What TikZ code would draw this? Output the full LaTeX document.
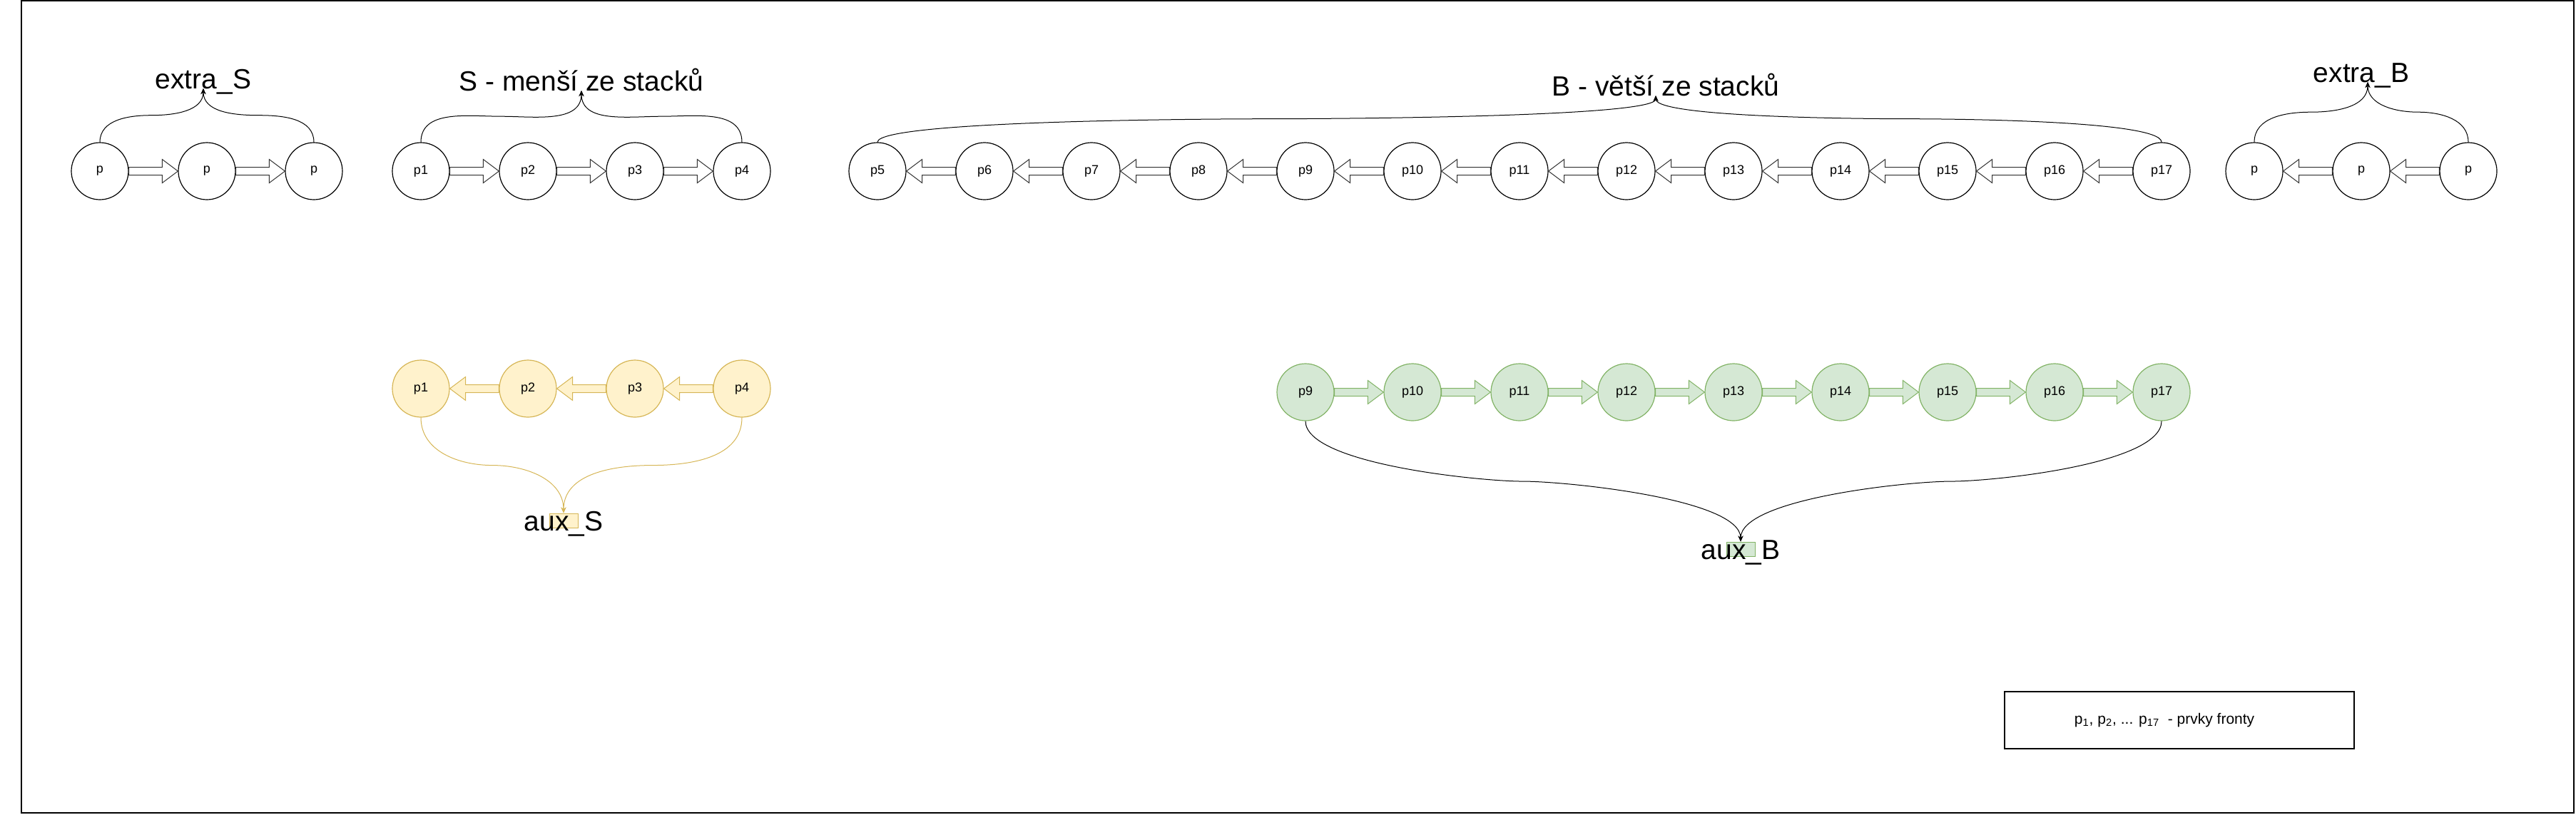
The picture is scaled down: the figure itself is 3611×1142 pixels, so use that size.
\documentclass[tikz,border=0pt]{standalone}
\usepackage{fontspec}
\setmainfont{Liberation Sans}
\usepackage{xcolor}
\usepackage{tikz}
\usetikzlibrary{arrows.meta,positioning,calc}

\definecolor{ylwfill}{HTML}{FFF2CC}
\definecolor{ylwline}{HTML}{D6B656}
\definecolor{grnfill}{HTML}{D5E8D4}
\definecolor{grnline}{HTML}{82B366}

% hollow block arrow between two node anchors (tail, head)
\newcommand{\flexarrow}[3][]{%
  \path (#2) coordinate (fa-s) (#3) coordinate (fa-h);
  \path ($(fa-h)!11pt!(fa-s)$) coordinate (fa-b);
  \draw[flex,#1] ($(fa-s)+(0,5.5)$) -- ($(fa-b)+(0,5.5)$) -- ($(fa-b)+(0,16.5)$)
    -- (fa-h) -- ($(fa-b)+(0,-16.5)$) -- ($(fa-b)+(0,-5.5)$) -- ($(fa-s)+(0,-5.5)$) -- cycle;
}

\begin{document}
\begin{tikzpicture}[
  x=0.5pt, y=-0.5pt,
  node distance=34.4pt,
  elem/.style={circle, draw=black, line width=0.6pt, fill=white, minimum size=40pt,
               inner sep=0pt, font=\fontsize{9}{10}\selectfont},
  yelem/.style={elem, draw=ylwline, fill=ylwfill},
  gelem/.style={elem, draw=grnline, fill=grnfill},
  flex/.style={draw=black!80, fill=white, line width=0.5pt},
  yflex/.style={draw=ylwline, fill=ylwfill},
  gflex/.style={draw=grnline, fill=grnfill},
  title/.style={font=\fontsize{19.5}{23}\selectfont, inner sep=0pt},
  link/.style={-{Stealth[length=4pt,width=3.5pt]}, line width=0.5pt},
  auxbox/.style={rectangle, minimum width=20pt, minimum height=10pt, inner sep=0pt,
                 line width=0.5pt}
]
\useasboundingbox (0,0) rectangle (3611,1142);
\draw[line width=1pt] (30,1) rectangle (3608,1140);

%% extra_S row
\node[elem] (xs1) at (140,240) {p};
\node[elem, right=of xs1] (xs2) {p};
\node[elem, right=of xs2] (xs3) {p};

%% S row
\node[elem] (s1) at (590,240) {p1};
\node[elem, right=of s1] (s2) {p2};
\node[elem, right=of s2] (s3) {p3};
\node[elem, right=of s3] (s4) {p4};

%% B row
\node[elem] (b5) at (1230,240) {p5};
\node[elem, right=of b5]  (b6)  {p6};
\node[elem, right=of b6]  (b7)  {p7};
\node[elem, right=of b7]  (b8)  {p8};
\node[elem, right=of b8]  (b9)  {p9};
\node[elem, right=of b9]  (b10) {p10};
\node[elem, right=of b10] (b11) {p11};
\node[elem, right=of b11] (b12) {p12};
\node[elem, right=of b12] (b13) {p13};
\node[elem, right=of b13] (b14) {p14};
\node[elem, right=of b14] (b15) {p15};
\node[elem, right=of b15] (b16) {p16};
\node[elem, right=of b16] (b17) {p17};

%% extra_B row
\node[elem] (xb1) at (3160,240) {p};
\node[elem, right=of xb1] (xb2) {p};
\node[elem, right=of xb2] (xb3) {p};

%% titles
\node[title, anchor=base] (extraS) at (285,124)  {extra\_S};
\node[title, anchor=base] (stitle) at (815,127)  {S - menší ze stacků};
\node[title, anchor=base] (btitle) at (2335,134) {B - větší ze stacků};
\node[title, anchor=base] (extraB) at (3310,115) {extra\_B};

%% top block arrows
\flexarrow{xs1.east}{xs2.west}
\flexarrow{xs2.east}{xs3.west}
\flexarrow{s1.east}{s2.west}
\flexarrow{s2.east}{s3.west}
\flexarrow{s3.east}{s4.west}
\flexarrow{b6.west}{b5.east}
\flexarrow{b7.west}{b6.east}
\flexarrow{b8.west}{b7.east}
\flexarrow{b9.west}{b8.east}
\flexarrow{b10.west}{b9.east}
\flexarrow{b11.west}{b10.east}
\flexarrow{b12.west}{b11.east}
\flexarrow{b13.west}{b12.east}
\flexarrow{b14.west}{b13.east}
\flexarrow{b15.west}{b14.east}
\flexarrow{b16.west}{b15.east}
\flexarrow{b17.west}{b16.east}
\flexarrow{xb2.west}{xb1.east}
\flexarrow{xb3.west}{xb2.east}

%% top curved links
\draw[link] (xs1.north) to[out=90,in=180] ($(xs1.north)!.5!(extraS.base)$) to[out=0,in=-90] (extraS.base);
\draw[link] (xs3.north) to[out=90,in=0] ($(xs3.north)!.5!(extraS.base)$) to[out=180,in=-90] (extraS.base);
\draw[link] (s1.north) to[out=90,in=180] ($(s1.north)!.5!(stitle.base)$) to[out=0,in=-90] (stitle.base);
\draw[link] (s4.north) to[out=90,in=0] ($(s4.north)!.5!(stitle.base)$) to[out=180,in=-90] (stitle.base);
\draw[link, distance=16pt] (b5.north) to[out=90,in=180] ($(b5.north)!.5!([xshift=-7pt]btitle.base)$)
  to[out=0,in=-90] ([xshift=-7pt]btitle.base);
\draw[link, distance=16pt] (b17.north) to[out=90,in=0] ($(b17.north)!.5!([xshift=-7pt]btitle.base)$)
  to[out=180,in=-90] ([xshift=-7pt]btitle.base);
\draw[link] (xb1.north) to[out=90,in=180] ($(xb1.north)!.5!([xshift=4.5pt]extraB.base)$)
  to[out=0,in=-90] ([xshift=4.5pt]extraB.base);
\draw[link] (xb3.north) to[out=90,in=0] ($(xb3.north)!.5!([xshift=4.5pt]extraB.base)$)
  to[out=180,in=-90] ([xshift=4.5pt]extraB.base);

%% aux_S (yellow)
\node[yelem] (ys1) at (590,545) {p1};
\node[yelem, right=of ys1] (ys2) {p2};
\node[yelem, right=of ys2] (ys3) {p3};
\node[yelem, right=of ys3] (ys4) {p4};
\flexarrow[yflex]{ys2.west}{ys1.east}
\flexarrow[yflex]{ys3.west}{ys2.east}
\flexarrow[yflex]{ys4.west}{ys3.east}

\node[auxbox, draw=ylwline, fill=ylwfill] (auxS) at (790,730) {};
\node[title, anchor=base] (auxStxt) at ([yshift=-7pt]auxS.center) {aux\_S};
\draw[link, ylwline] (ys1.south) to[out=-90,in=180] ($(ys1.south)!.5!(auxS.north)$) to[out=0,in=90] (auxS.north);
\draw[link, ylwline] (ys4.south) to[out=-90,in=0] ($(ys4.south)!.5!(auxS.north)$) to[out=180,in=90] (auxS.north);

%% aux_B (green)
\node[gelem] (g9) at (1830,550) {p9};
\node[gelem, right=of g9]  (g10) {p10};
\node[gelem, right=of g10] (g11) {p11};
\node[gelem, right=of g11] (g12) {p12};
\node[gelem, right=of g12] (g13) {p13};
\node[gelem, right=of g13] (g14) {p14};
\node[gelem, right=of g14] (g15) {p15};
\node[gelem, right=of g15] (g16) {p16};
\node[gelem, right=of g16] (g17) {p17};
\flexarrow[gflex]{g9.east}{g10.west}
\flexarrow[gflex]{g10.east}{g11.west}
\flexarrow[gflex]{g11.east}{g12.west}
\flexarrow[gflex]{g12.east}{g13.west}
\flexarrow[gflex]{g13.east}{g14.west}
\flexarrow[gflex]{g14.east}{g15.west}
\flexarrow[gflex]{g15.east}{g16.west}
\flexarrow[gflex]{g16.east}{g17.west}

\node[auxbox, draw=grnline, fill=grnfill] (auxB) at (2440,770) {};
\node[title, anchor=base] (auxBtxt) at ([yshift=-7pt]auxB.center) {aux\_B};
\draw[link, distance=30pt] (g9.south) to[out=-90,in=180] ($(g9.south)!.5!(auxB.north)$) to[out=0,in=90] (auxB.north);
\draw[link, distance=30pt] (g17.south) to[out=-90,in=0] ($(g17.south)!.5!(auxB.north)$) to[out=180,in=90] (auxB.north);

%% legend
\node[rectangle, draw, line width=0.6pt, minimum width=245pt, minimum height=40pt] (legend) at (3055,1010) {};
\node[font=\fontsize{10.5}{12}\selectfont] (legendtxt) at ([xshift=-10.5pt]legend.center)
  {p\textsubscript{1}, p\textsubscript{2}, ... p\textsubscript{17}\ \ - prvky fronty};

\end{tikzpicture}
\end{document}
